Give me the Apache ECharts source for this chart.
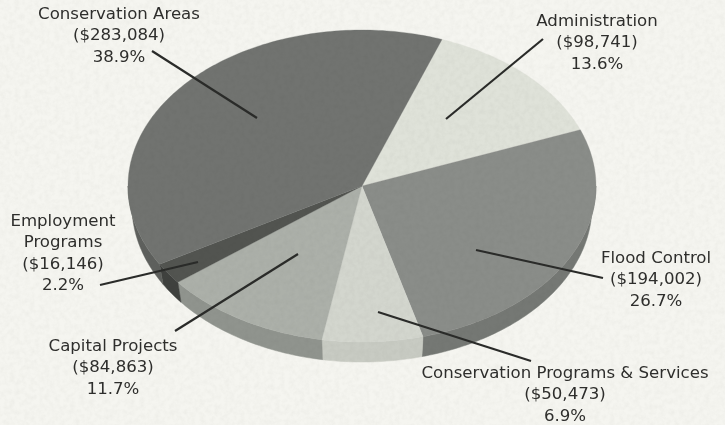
<!DOCTYPE html>
<html>
<head>
<meta charset="utf-8">
<style>
html,body{margin:0;padding:0;background:#f5f5f0;}
#c{position:absolute;left:0;top:0;width:725px;height:425px;}
#n{position:absolute;left:0;top:0;width:725px;height:425px;pointer-events:none;opacity:.12;mix-blend-mode:multiply;}
</style>
<script src="https://cdn.jsdelivr.net/npm/echarts@6/dist/echarts.min.js"></script>
</head>
<body>
<div id="c"></div>
<svg id="n" xmlns="http://www.w3.org/2000/svg" width="725" height="425">
<filter id="f"><feTurbulence type="fractalNoise" baseFrequency="0.2" numOctaves="3" seed="4"/><feColorMatrix type="matrix" values="0 0 0 0 0.5  0 0 0 0 0.5  0 0 0 0 0.48  1.6 0 0 0 -0.55"/></filter>
<rect width="725" height="425" filter="url(#f)"/>
</svg>
<script>
const categories = ['Administration','Flood Control','Conservation Programs & Services','Capital Projects','Employment Programs','Conservation Areas'];
const amounts = [98741,194002,50473,84863,16146,283084];
const amountLabels = ['($98,741)','($194,002)','($50,473)','($84,863)','($16,146)','($283,084)'];
const percentLabels = ['13.6%','26.7%','6.9%','11.7%','2.2%','38.9%'];
const topColors = ['#dfe2d9','#8a8d89','#d3d6ce','#acb0a9','#525450','#717370'];
const sideColors = ['#c8cbc2','#757874','#c8cbc3','#90948e','#3f413e','#5e605d'];

const chart = echarts.init(document.getElementById('c'), null, {renderer:'canvas'});
const cx = 362, cy = 186, rx = 234, ry = 156, depth = 20, sideInset = 4, startDeg = 20;
const total = amounts.reduce((a,b)=>a+b,0);
const starts = [];
amounts.reduce((acc,v,i)=>{starts[i]=acc;return acc+v;},0);

function pt(deg,dy,inset){
  const r = deg*Math.PI/180;
  return [cx+(rx-inset)*Math.sin(r), cy-ry*Math.cos(r)+dy];
}
function arc(a,b,dy,inset){
  const out=[];
  const n=Math.max(2,Math.ceil(Math.abs(b-a)));
  for(let i=0;i<=n;i++) out.push(pt(a+(b-a)*i/n,dy,inset));
  return out;
}
function renderItem(params,api){
  const i=params.dataIndex;
  const a=startDeg+starts[i]/total*360;
  const b=a+api.value(1)/total*360;
  const children=[];
  const sa=Math.max(a,90), sb=Math.min(b,270);
  if(sb>sa){
    children.push({type:'polygon',z2:1,
      shape:{points:arc(sa,sb,0,0).concat(arc(sb,sa,depth,sideInset))},
      style:{fill:sideColors[i],stroke:sideColors[i],lineWidth:.5}});
  }
  children.push({type:'polygon',z2:10,
    shape:{points:[[cx,cy]].concat(arc(a,b,0,0))},
    style:{fill:topColors[i],stroke:topColors[i],lineWidth:.3}});
  return {type:'group',children};
}

const labelAnchors = [[597,22],[656,259],[565,374],[113,347],[63,222],[119,15]];
const leaders = [
  [[543,39],[446,119]],
  [[603,278],[476,250]],
  [[531,361],[378,312]],
  [[175,331],[298,254]],
  [[100,285],[198,262]],
  [[152,51],[257,118]]
];
const nameLines = [['Administration'],['Flood Control'],['Conservation Programs & Services'],['Capital Projects'],['Employment','Programs'],['Conservation Areas']];
const graphics=[];
categories.forEach((c,i)=>{
  const lines=nameLines[i].concat([amountLabels[i],percentLabels[i]]);
  graphics.push({type:'text',x:labelAnchors[i][0],y:labelAnchors[i][1]-11,z:20,
    style:{text:lines.join('\n'),fill:'#2e2e2c',font:'16.6px "DejaVu Sans", sans-serif',
      lineHeight:21.4,align:'center',verticalAlign:'top'}});
  graphics.push({type:'line',z:21,
    shape:{x1:leaders[i][0][0],y1:leaders[i][0][1],x2:leaders[i][1][0],y2:leaders[i][1][1]},
    style:{stroke:'#2a2b29',lineWidth:2.2}});
});

chart.setOption({
  animation:false,
  backgroundColor:'transparent',
  graphic:graphics,
  series:[{
    type:'custom',
    coordinateSystem:'none',
    renderItem,
    silent:true,
    data:amounts.map((v,i)=>({name:categories[i],value:[i,v]}))
  }]
});
</script>
</body>
</html>
